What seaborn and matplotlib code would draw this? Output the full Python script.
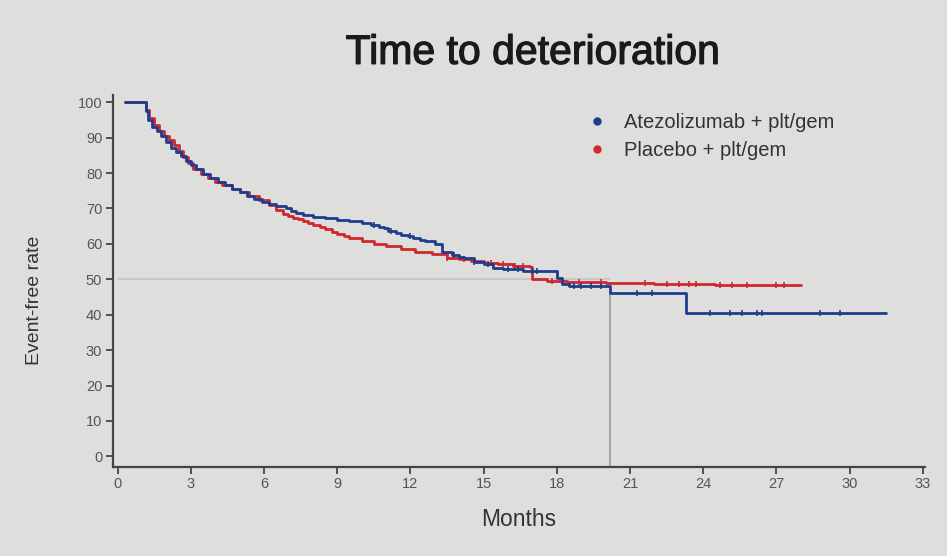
import numpy as np
import matplotlib
matplotlib.use("Agg")
import matplotlib.pyplot as plt
import matplotlib.patheffects as pe
from matplotlib.lines import Line2D
import seaborn as sns

# Kaplan-Meier style step data (months, event-free %)
atezo_t = [0.3, 1.15, 1.25, 1.4, 1.6, 1.8, 2.0, 2.2, 2.4, 2.6, 2.8, 3.0, 3.2, 3.5, 3.8,
           4.1, 4.4, 4.7, 5.0, 5.3, 5.6, 5.9, 6.2, 6.5, 6.9, 7.1, 7.3, 7.6, 8.0, 8.5, 9.0,
           9.5, 10.0, 10.4, 10.7, 10.9, 11.1, 11.4, 11.6, 11.9, 12.1, 12.4, 12.6, 13.0, 13.3,
           13.7, 14.0, 14.2, 14.6, 15.0, 15.4, 15.8, 16.6, 18.0, 18.2, 18.5, 20.2, 23.3, 31.5]
atezo_s = [100, 97.5, 95, 93, 91.8, 90.5, 88.7, 87.2, 86, 84.8, 83.5, 82.3, 81, 79.8, 78.6,
           77.6, 76.7, 75.6, 74.6, 73.5, 72.6, 71.8, 71.2, 70.7, 70.0, 69.3, 68.8, 68.2, 67.7,
           67.3, 66.8, 66.4, 65.9, 65.4, 64.9, 64.4, 63.7, 63.1, 62.6, 62.1, 61.6, 61.2, 60.8,
           60.0, 57.6, 56.8, 56.4, 56.0, 55.0, 54.2, 53.3, 52.8, 52.4, 50.5, 48.6, 48.0, 46.0,
           40.4, 40.4]

placebo_t = [0.3, 1.15, 1.3, 1.5, 1.7, 1.9, 2.1, 2.3, 2.5, 2.7, 2.9, 3.1, 3.4, 3.7, 4.0,
             4.3, 4.7, 5.0, 5.4, 5.8, 6.2, 6.5, 6.8, 7.0, 7.2, 7.4, 7.6, 7.8, 8.0, 8.3, 8.5,
             8.8, 9.0, 9.3, 9.5, 10.0, 10.5, 11.0, 11.6, 12.2, 12.9, 13.5, 14.0, 14.5, 15.0,
             15.6, 16.2, 16.9, 17.0, 17.6, 18.4, 20.0, 22.0, 24.5, 28.0]
placebo_s = [100, 97.8, 95.5, 93.5, 92, 90.5, 89.2, 87.8, 86.3, 84.5, 82.8, 81.2, 79.8, 78.7,
             77.6, 76.6, 75.5, 74.5, 73.4, 72.3, 71.0, 69.6, 68.4, 67.9, 67.4, 66.9, 66.4,
             65.9, 65.4, 64.8, 64.1, 63.4, 62.8, 62.2, 61.6, 60.8, 60.0, 59.3, 58.5, 57.8,
             57.0, 56.0, 55.6, 55.1, 54.7, 54.2, 53.8, 53.4, 50.0, 49.6, 49.2, 48.9, 48.6,
             48.3, 48.3]

# censoring times
atezo_cens = [10.5, 11.2, 12.0, 13.8, 14.6, 15.2, 16.0, 16.4, 17.0, 17.2, 18.7, 19.0, 19.4,
              19.8, 21.3, 21.9, 24.3, 25.1, 25.6, 26.2, 26.4, 28.8, 29.6]
placebo_cens = [13.5, 14.2, 15.3, 15.8, 16.3, 16.6, 17.8, 18.2, 18.9, 19.8, 21.6, 22.5, 23.0,
                23.4, 23.7, 24.7, 25.2, 25.8, 27.0, 27.3]

median_month = 20.2
labels = ["Atezolizumab + plt/gem", "Placebo + plt/gem"]
blue = "#1f3d8c"
red = "#d0282c"
bg = "#dededd"

sns.set_theme(style="ticks")
plt.rcParams["font.family"] = ["Liberation Sans", "DejaVu Sans"]

fig = plt.figure(figsize=(9.47, 5.56), dpi=100, facecolor=bg)
ax = fig.add_axes([0.119, 0.160, 0.858, 0.669])
ax.set_facecolor(bg)

# reference lines at 50% and at the median
ax.plot([0, median_month], [50, 50], color="#c4c4c4", lw=1.2, zorder=1)
ax.plot([median_month, median_month], [-3, 46.5], color="#9a9a9a", lw=1.2, zorder=1)

sns.lineplot(x=placebo_t, y=placebo_s, ax=ax, color=red, lw=2,
             drawstyle="steps-post", estimator=None, sort=False, zorder=3)
sns.lineplot(x=atezo_t, y=atezo_s, ax=ax, color=blue, lw=2,
             drawstyle="steps-post", estimator=None, sort=False, zorder=4)


def step_at(ts, ss, c):
    i = np.searchsorted(ts, c, side="right") - 1
    return ss[max(i, 0)]


ax.plot(placebo_cens, [step_at(placebo_t, placebo_s, c) for c in placebo_cens],
        ls="", marker="|", ms=5, mew=1.2, color=red, zorder=3)
ax.plot(atezo_cens, [step_at(atezo_t, atezo_s, c) for c in atezo_cens],
        ls="", marker="|", ms=5, mew=1.2, color=blue, zorder=4)

ax.set_xlim(-0.2, 33.1)
ax.set_ylim(-3, 102)
ax.set_xticks(np.arange(0, 34, 3))
ax.set_yticks(np.arange(0, 101, 10))
ax.tick_params(axis="both", labelsize=10.5, colors="#444444", length=5, width=1.3,
               labelcolor="#555555", pad=2.5)
for s in ["left", "bottom"]:
    ax.spines[s].set_color("#444444")
    ax.spines[s].set_linewidth(1.6)
sns.despine(ax=ax)

ax.set_xlabel("Months", fontsize=16.5, color="#333333", labelpad=12)
fig.text(0.036, 0.46, "Event-free rate", rotation=90, ha="center", va="center",
         fontsize=14, color="#333333")
fig.text(0.563, 0.905, "Time to deterioration", ha="center", va="center",
         fontsize=29.5, color="#1a1a1a",
         path_effects=[pe.withStroke(linewidth=0.9, foreground="#1a1a1a")])

handles = [Line2D([], [], ls="", marker="o", ms=5, color=blue),
           Line2D([], [], ls="", marker="o", ms=5, color=red)]
ax.legend(handles, labels, loc="upper left", bbox_to_anchor=(0.59, 0.83),
          bbox_transform=fig.transFigure, frameon=False, fontsize=14.5,
          handletextpad=0.35, labelspacing=0.45, labelcolor="#333333")

fig.savefig("out.png", dpi=100, facecolor=bg)
